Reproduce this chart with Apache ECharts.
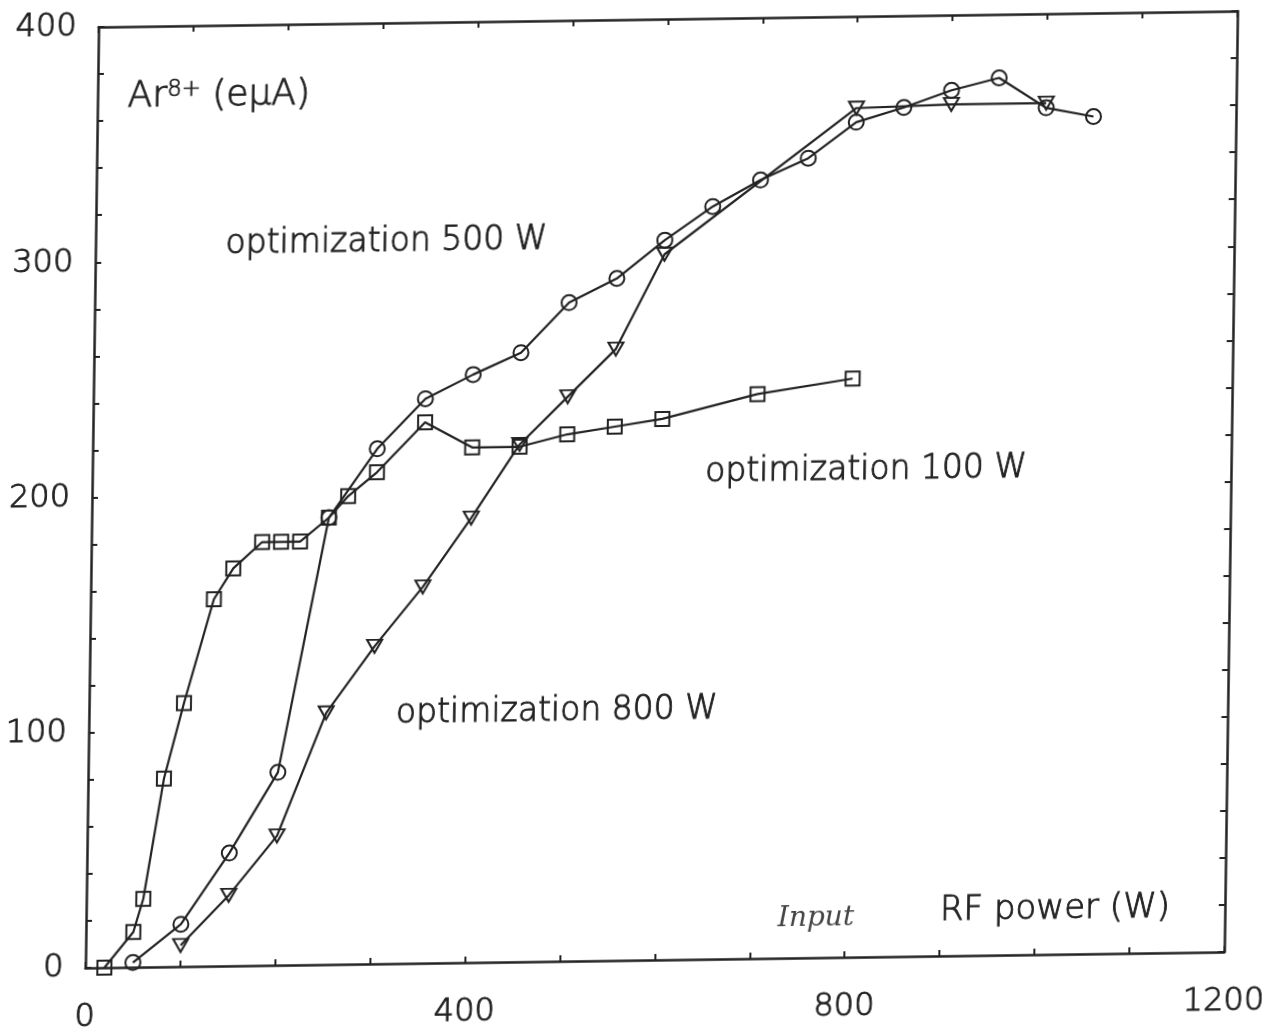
<!DOCTYPE html>
<html>
<head>
<meta charset="utf-8">
<title>Ar8+ current vs RF power</title>
<script src="https://cdn.jsdelivr.net/npm/echarts@6/dist/echarts.min.js"></script>
<style>
  html, body { margin: 0; padding: 0; background: #fff; overflow: hidden; }
  /* the sheet sits slightly sheared on the page */
  #chart {
    width: 1275px; height: 1036px;
    transform-origin: 664px 489px;
    transform: matrix(1, -0.014, -0.014, 1, 0, 0);
  }
</style>
</head>
<body>
<div id="chart"></div>
<script>
// Source optimised at 500 W (circles)
const power500 = [50, 100, 150, 200, 250, 300, 350, 400, 450, 500, 550, 600, 650, 700, 750, 800, 850, 900, 950, 1000, 1050];
const current500 = [2, 18, 48, 82, 190, 219, 240, 250, 259, 280, 290, 306, 320, 331, 340, 355, 361, 368, 373, 360, 356];

// Source optimised at 100 W (squares)
const power100 = [20, 50, 60, 80, 100, 130, 150, 180, 200, 220, 250, 270, 300, 350, 400, 450, 500, 550, 600, 700, 800];
const current100 = [0, 15, 29, 80, 112, 156, 169, 180, 180, 180, 190, 199, 209, 230, 219, 219, 224, 227, 230, 240, 246];

// Source optimised at 800 W (down triangles)
const power800 = [100, 150, 200, 250, 300, 350, 400, 450, 500, 550, 600, 800, 900, 1000];
const current800 = [9, 30, 55, 107, 135, 160, 189, 220, 240, 260, 300, 361, 362, 362];

// Axis labels that carry numbers
const xTickLabels = [0, 400, 800, 1200];
const yTickLabels = [0, 100, 200, 300, 400];

const ink = '#222';
const font = '"DejaVu Sans", "Liberation Sans", sans-serif';
const weight = 300;
const thicken = 0.9; // outline width that gives the light face a pen-like stroke

function runSeries(name, xs, ys, symbol, size, rotate) {
  return {
    name: name,
    type: 'line',
    data: xs.map((x, i) => [x, ys[i]]),
    symbol: symbol,
    symbolSize: size,
    symbolRotate: rotate || 0,
    showAllSymbol: true,
    clip: false,
    silent: true,
    lineStyle: { color: ink, width: 2.2 },
    itemStyle: { color: 'rgba(255,255,255,0)', borderColor: ink, borderWidth: 2 },
    emphasis: { disabled: true }
  };
}

function note(text, x, y, size) {
  return {
    type: 'text', x: x, y: y, silent: true,
    style: {
      text: text, font: weight + ' ' + size + 'px ' + font,
      fill: ink, stroke: ink, lineWidth: thicken,
      textAlign: 'center', textVerticalAlign: 'middle'
    }
  };
}

const frameLine = { show: true, onZero: false, lineStyle: { color: ink, width: 2.5 } };
const innerTick = { show: true, inside: true, length: 6, lineStyle: { color: ink, width: 2 } };
const tickFont = {
  fontSize: 32, fontFamily: font, fontWeight: weight, color: ink,
  textBorderColor: ink, textBorderWidth: thicken
};

const chart = echarts.init(document.getElementById('chart'), null, { renderer: 'canvas' });
chart.setOption({
  animation: false,
  backgroundColor: '#fff',
  grid: { left: 92, top: 19, right: 41, bottom: 76, containLabel: false },
  xAxis: [
    {
      type: 'value', min: 0, max: 1200, interval: 100, position: 'bottom',
      axisLine: frameLine, axisTick: innerTick, splitLine: { show: false },
      axisLabel: Object.assign({ margin: 34, formatter: v => xTickLabels.includes(v) ? String(v) : '' }, tickFont)
    },
    {
      type: 'value', min: 0, max: 1200, interval: 100, position: 'top',
      axisLine: frameLine, axisTick: innerTick, splitLine: { show: false },
      axisLabel: { show: false }
    }
  ],
  yAxis: [
    {
      type: 'value', min: 0, max: 400, interval: 20, position: 'left',
      axisLine: frameLine, axisTick: innerTick, splitLine: { show: false },
      axisLabel: Object.assign({ margin: 22, padding: [12, 0, 0, 0], formatter: v => yTickLabels.includes(v) ? String(v) : '' }, tickFont)
    },
    {
      type: 'value', min: 0, max: 400, interval: 20, position: 'right',
      axisLine: frameLine, axisTick: innerTick, splitLine: { show: false },
      axisLabel: { show: false }
    }
  ],
  series: [
    runSeries('optimization 100 W', power100, current100, 'rect', 14),
    runSeries('optimization 800 W', power800, current800, 'triangle', [15, 13], 180),
    runSeries('optimization 500 W', power500, current500, 'circle', 15)
  ],
  graphic: [
    {
      type: 'text', x: 122, y: 90, silent: true,
      style: {
        text: '{m|Ar}{s|8+}{m| (eμA)}',
        textVerticalAlign: 'middle',
        fill: ink,
        rich: {
          m: { fontSize: 36, fontFamily: font, fontWeight: weight, fill: ink, stroke: ink, lineWidth: thicken },
          s: { fontSize: 23, fontFamily: font, fontWeight: weight, fill: ink, stroke: ink, lineWidth: 0.7, verticalAlign: 'top' }
        }
      }
    },
    note('optimization 500 W', 383, 238, 33),
    note('optimization 100 W', 866, 473, 33),
    note('optimization 800 W', 560, 710, 33),
    note('RF power (W)', 1061, 915, 34),
    { type: 'text', x: 822, y: 921, silent: true,
      style: { text: 'Input', font: 'italic 28px "DejaVu Serif", serif', fill: '#444', textAlign: 'center', textVerticalAlign: 'middle' } }
  ]
});
</script>
</body>
</html>
